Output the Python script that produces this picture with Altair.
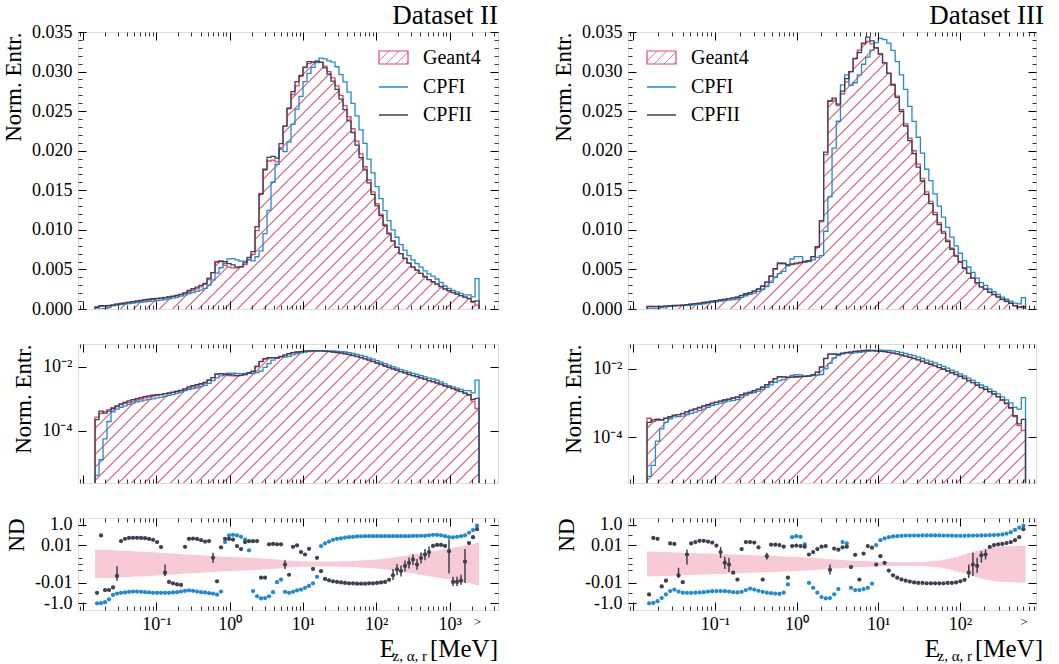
import numpy as np
import pandas as pd
import altair as alt

FONT = "Liberation Serif"
RED = "#e5446d"
HATCH = "#ef7f98"
BLUE = "#1f8ad2"
DARK = "#3c4150"
BAND = "#f8cad5"

# ------------------------------------------------------------------ binning
II_EDGE_LOG = (-1.8377, 3.4010)   # log10 of first / last bin edge [MeV]
II_NBINS = 96
III_EDGE_LOG = (-1.8331, 2.8046)
III_NBINS = 90

# ------------------------------------------------------------------ Dataset II
g4_II = [0.00027, 0.00035, 0.00040, 0.00046, 0.00053, 0.00060, 0.00066, 0.00072, 0.00078, 0.00085,
         0.00092, 0.00099, 0.00107, 0.00114, 0.00121, 0.00129, 0.00136, 0.00145, 0.00154, 0.00163,
         0.00174, 0.00187, 0.00202, 0.00218, 0.00235, 0.00255, 0.00280, 0.00310, 0.00370, 0.00460,
         0.00600, 0.00600, 0.00550, 0.00530, 0.00520, 0.00520, 0.00530, 0.00560, 0.00620, 0.00690,
         0.00990, 0.01460, 0.01770, 0.01870, 0.01880, 0.01860, 0.02040, 0.02310, 0.02540, 0.02710,
         0.02820, 0.02940, 0.03050, 0.03100, 0.03120, 0.03130, 0.03120, 0.03070, 0.03000, 0.02920,
         0.02820, 0.02700, 0.02570, 0.02430, 0.02280, 0.02120, 0.01960, 0.01800, 0.01630, 0.01480,
         0.01330, 0.01200, 0.01070, 0.00960, 0.00860, 0.00780, 0.00700, 0.00640, 0.00580, 0.00530,
         0.00490, 0.00450, 0.00410, 0.00370, 0.00340, 0.00310, 0.00280, 0.00250, 0.00230, 0.00210,
         0.00190, 0.00170, 0.00150, 0.00130, 0.00085, 0.00050]
nd_cpfi_II = [-0.97, -0.93, -0.75, -0.4, -0.15, -0.11, -0.093, -0.085, -0.075, -0.07,
              -0.07, -0.075, -0.08, -0.085, -0.093, -0.093, -0.093, -0.093, -0.093, -0.085,
              -0.08, -0.07, -0.06, -0.055, -0.06, -0.07, -0.08, -0.085, -0.1, -0.11,
              -0.14, -0.07, 0.02, 0.088, 0.1, 0.088, 0.065, 0.035, 0.003, -0.063,
              -0.2, -0.33, -0.3, -0.2, -0.08, -0.0085, -0.0047, -0.075, -0.093, -0.075,
              -0.055, -0.045, -0.03, -0.02, -0.011, -0.0025, 0.008, 0.0145, 0.022, 0.033,
              0.041, 0.046, 0.055, 0.06, 0.065, 0.07, 0.072, 0.075, 0.075, 0.075,
              0.075, 0.075, 0.075, 0.075, 0.075, 0.075, 0.075, 0.075, 0.075, 0.078,
              0.078, 0.08, 0.08, 0.09, 0.1, 0.1, 0.09, 0.075, 0.06, 0.057,
              0.065, 0.075, 0.09, 0.16, 0.29, 0.77]
nd_cpfii_II = [-0.093, 0.088, -0.05, -0.05, -0.028, -0.002, 0.025, 0.041, 0.05, 0.052,
               0.052, 0.05, 0.047, 0.04, 0.033, 0.02, 0.0065, -0.0009, -0.008, -0.011,
               -0.014, -0.016, 0.0068, 0.04, 0.043, 0.04, 0.03, 0.022, 0.025, 0.00045,
               -0.007, 0.006, 0.041, 0.04, 0.035, 0.008, 0.004, 0.02, 0.024, 0.024,
               0.025, -0.003, -0.003, 0.012, 0.013, 0.012, 0.012, -0.00002, -0.0015, 0.0068,
               0.0093, 0.002, 0.0011, 0.0043, -0.0003, 0.00045, -0.0006, -0.004, -0.0055, -0.007,
               -0.008, -0.009, -0.01, -0.011, -0.011, -0.012, -0.012, -0.012, -0.011, -0.011,
               -0.01, -0.009, -0.008, -0.005, -0.0017, -0.00036, -0.00057, -0.000084, 0.00004, 0.00026,
               -0.00002, 0.00042, 0.0011, 0.002, 0.0083, 0.0104, 0.0104, 0.0083, 0.0025, -0.008,
               -0.008, -0.006, 0.0001, 0.016, 0.06, 0.35]
band_II = [0.0035, 0.0034, 0.0033, 0.0032, 0.0031, 0.0029, 0.0028, 0.0027, 0.0026, 0.0025,
           0.0023, 0.0022, 0.0021, 0.0020, 0.0019, 0.0018, 0.0017, 0.0016, 0.0015, 0.0014,
           0.0013, 0.0012, 0.0011, 0.00105, 0.001, 0.00095, 0.0009, 0.00085, 0.0008, 0.00075,
           0.0007, 0.00066, 0.00062, 0.00058, 0.00055, 0.00052, 0.0005, 0.00048, 0.00045, 0.00042,
           0.0004, 0.00037, 0.00034, 0.00031, 0.00028, 0.00026, 0.00023, 0.0002, 0.00018, 0.00016,
           0.00014, 0.00013, 0.00012, 0.00012, 0.00011, 0.00011, 0.00011, 0.00011, 0.00011, 0.00011,
           0.00011, 0.00012, 0.00012, 0.00013, 0.00014, 0.00015, 0.00017, 0.00019, 0.00021, 0.00024,
           0.00027, 0.00031, 0.00036, 0.00042, 0.0005, 0.00058, 0.00068, 0.0008, 0.00095, 0.0011,
           0.0013, 0.0015, 0.0018, 0.0021, 0.0025, 0.0029, 0.0034, 0.004, 0.0047, 0.0055,
           0.0065, 0.0078, 0.009, 0.011, 0.013, 0.016]
err_idx_II = [5, 17, 29, 47, 74, 75, 76, 77, 78, 79, 80, 81, 82, 83, 88, 89, 90, 91, 92]
err_lo_II = [-0.006, -0.002, 0.00004, -0.0003, -0.0052, -0.0016, -0.0023, -0.00065, -0.00026, -0.00004,
             -0.0004, 0.00002, 0.0002, 0.0005, -0.0011, -0.02, -0.02, -0.015, -0.01]
err_hi_II = [-0.0001, -0.00002, 0.0017, 0.0002, -0.0003, 0.0, -0.00006, 0.00018, 0.0005, 0.0012,
             0.0003, 0.0018, 0.0041, 0.0074, 0.035, -0.0025, -0.0025, -0.0015, 0.004]

# ------------------------------------------------------------------ Dataset III
g4_III = [0.00036, 0.00029, 0.00031, 0.00033, 0.00036, 0.00039, 0.00043, 0.00046, 0.0005, 0.00055,
          0.0006, 0.00065, 0.00071, 0.00078, 0.00086, 0.00095, 0.00104, 0.00113, 0.00122, 0.0013,
          0.0014, 0.0015, 0.0017, 0.00185, 0.002, 0.0022, 0.0025, 0.0029, 0.0034, 0.0041,
          0.0050, 0.0057, 0.0057, 0.0056, 0.0056, 0.0057, 0.0058, 0.0059, 0.0061, 0.0066,
          0.0078, 0.0110, 0.0195, 0.0263, 0.0264, 0.0257, 0.0272, 0.0287, 0.0300, 0.0316,
          0.0327, 0.0335, 0.0338, 0.0335, 0.0330, 0.0322, 0.0311, 0.0298, 0.0284, 0.0269,
          0.0252, 0.0234, 0.0216, 0.0200, 0.0183, 0.0165, 0.0148, 0.0136, 0.0122, 0.0109,
          0.0098, 0.0087, 0.0077, 0.0068, 0.0060, 0.0052, 0.0045, 0.0039, 0.0033, 0.0028,
          0.0025, 0.0021, 0.0018, 0.0015, 0.0012, 0.00095, 0.0007, 0.0004, 0.00022, 0.00016]
nd_cpfi_III = [-0.96, -0.9, -0.6, -0.3, -0.135, -0.063, -0.045, -0.07, -0.09, -0.093,
               -0.093, -0.09, -0.085, -0.08, -0.07, -0.065, -0.063, -0.063, -0.065, -0.07,
               -0.08, -0.085, -0.075, -0.05, -0.036, -0.045, -0.06, -0.075, -0.09, -0.1,
               -0.11, -0.12, -0.09, -0.014, 0.06, 0.075, 0.065, 0.012, -0.01, -0.03,
               -0.09, -0.24, -0.33, -0.3, -0.13, -0.04, 0.02, 0.015, -0.03, -0.05,
               -0.05, -0.04, -0.03, -0.012, 0.01, 0.03, 0.045, 0.06, 0.07, 0.075,
               0.08, 0.085, 0.085, 0.085, 0.085, 0.088, 0.088, 0.088, 0.088, 0.088,
               0.085, 0.085, 0.082, 0.08, 0.08, 0.08, 0.082, 0.085, 0.085, 0.088,
               0.09, 0.092, 0.095, 0.1, 0.11, 0.13, 0.18, 0.3, 0.5, 0.8]
nd_cpfii_III = [-0.135, 0.05, 0.041, -0.022, -0.006, 0.0145, 0.013, -0.0018, -0.0085, 0.0011,
                0.0145, 0.02, 0.026, 0.026, 0.022, 0.018, 0.009, 0.002, 0.00005, -0.00002,
                -0.0009, -0.0047, 0.004, 0.02, 0.02, 0.018, 0.006, -0.0047, 0.0007, 0.011,
                0.011, 0.01, 0.007, -0.003, 0.008, 0.009, 0.008, 0.007, 0.0011, 0.002,
                0.004, 0.007, 0.008, -0.0004, 0.0045, 0.0035, 0.006, 0.007, -0.00015, 0.001,
                -0.0047, 0.0014, 0.008, 0.0055, -0.00002, 0.0007, 0.00004, -0.0005, -0.0017, -0.003,
                -0.0045, -0.006, -0.0075, -0.009, -0.01, -0.01, -0.011, -0.011, -0.011, -0.011,
                -0.011, -0.01, -0.01, -0.009, -0.007, -0.005, -0.0009, -0.00002, -0.00008, 0.0009,
                0.0011, 0.0066, 0.01, 0.012, 0.013, 0.016, 0.02, 0.03, 0.06, 0.35]
band_III = [0.0023, 0.0022, 0.0021, 0.0020, 0.0020, 0.0019, 0.0018, 0.0018, 0.0017, 0.0016,
            0.0016, 0.0015, 0.0015, 0.0014, 0.0014, 0.0013, 0.0013, 0.0012, 0.0012, 0.0011,
            0.0011, 0.00105, 0.001, 0.00097, 0.00093, 0.0009, 0.00087, 0.00083, 0.0008, 0.00077,
            0.00074, 0.0007, 0.00066, 0.00063, 0.0006, 0.00057, 0.00054, 0.0005, 0.00046, 0.00042,
            0.00038, 0.00035, 0.00031, 0.00029, 0.00026, 0.00024, 0.00022, 0.0002, 0.00018, 0.00016,
            0.00015, 0.00014, 0.00013, 0.00012, 0.00011, 0.0001, 0.00009, 0.00008, 0.00008, 0.00007,
            0.00007, 0.00007, 0.00007, 0.00008, 0.00008, 0.00009, 0.0001, 0.00012, 0.00015, 0.00018,
            0.00024, 0.0003, 0.0004, 0.00055, 0.0008, 0.0011, 0.0016, 0.0021, 0.0028, 0.0036,
            0.0045, 0.0055, 0.0065, 0.0072, 0.0077, 0.008, 0.0083, 0.0086, 0.0089, 0.0092]
err_idx_III = [7, 9, 17, 18, 19, 28, 43, 76, 77, 78, 79, 80]
err_lo_III = [-0.0032, -0.00002, 0.00042, -0.0003, -0.00075, 0.00026, -0.0014, -0.0032, -0.002, -0.0009,
              0.00005, 0.00026]
err_hi_III = [-0.00019, 0.0037, 0.0066, 0.0006, 0.00045, 0.0017, -0.00002, -0.00002, 0.0017, 0.00045,
              0.0025, 0.0037]

LEGEND_LABELS = ["Geant4", "CPFI", "CPFII"]
TITLES = ["Dataset II", "Dataset III"]

# ------------------------------------------------------------------ layout
W_II, W_III = 420, 408
H_TOP, H_MID, H_ND = 277, 139, 92
X_DOMAIN_II = [10 ** -2.07, 10 ** 3.66]
X_DOMAIN_III = [10 ** -2.066, 10 ** 2.933]
Y_LIN = [0.0, 0.035]
Y_LOG_II = [2.4e-6, 0.051]
Y_LOG_III = [4.7e-6, 0.052]
Y_ND = [-4.3, 4.3]
ND_CONST = 0.00015


def model_hist(g4, nd):
    g4 = np.asarray(g4, float)
    nd = np.asarray(nd, float)
    return g4 * (1 + nd) / (1 - nd)


def step_line_df(edges, vals, base):
    xs = [edges[0]] + list(edges[:-1]) + [edges[-1], edges[-1]]
    ys = [base] + list(vals) + [vals[-1], base]
    return pd.DataFrame({"x": [float(v) for v in xs], "y": [float(v) for v in ys], "k": list(range(len(xs)))})


def hatch_fill(wpx, hpx, period=13.0, lw=1.2):
    span = wpx + hpx
    k = span / (wpx ** 2 + hpx ** 2)
    d = lw * np.sqrt(2) / span
    stops = [{"offset": 0.0, "color": "#ffffff"}]
    j = 1
    while True:
        c = j * period / span
        lo, hi = c - d / 2, c + d / 2
        if hi >= 1:
            break
        lo, hi = round(float(lo), 6), round(float(hi), 6)
        stops += [{"offset": lo, "color": "#ffffff"}, {"offset": lo, "color": HATCH},
                  {"offset": hi, "color": HATCH}, {"offset": hi, "color": "#ffffff"}]
        j += 1
    stops.append({"offset": 1.0, "color": "#ffffff"})
    return {"gradient": "linear", "x1": 0, "y1": 0,
            "x2": round(float(k * wpx), 6), "y2": round(float(k * hpx), 6), "stops": stops}


def logpx(v, dom, size):
    return size * (np.log10(v) - np.log10(dom[0])) / (np.log10(dom[1]) - np.log10(dom[0]))


def tick_axis(orient, values, L, w):
    return alt.Axis(orient=orient, offset=-L, tickSize=L, values=[float(v) for v in values],
                    labels=False, domain=False, grid=False, title=None, ticks=True,
                    tickColor="black", tickWidth=w, zindex=2, minExtent=0)


def carriers(xs, ys, xv, yv, xmaj, xmin, ymaj, ymin):
    df = pd.DataFrame({"x": [xv], "y": [yv]})
    out = []
    for ox, oy, xl, yl, L, w in [("bottom", "left", xmaj, ymaj, 8, 1.0),
                                 ("bottom", "left", xmin, ymin, 4, 0.8),
                                 ("top", "right", xmaj, ymaj, 8, 1.0),
                                 ("top", "right", xmin, ymin, 4, 0.8)]:
        yaxis = tick_axis(oy, yl, L, w) if len(yl) else None
        out.append(alt.Chart(df).mark_point(opacity=0).encode(
            x=alt.X("x:Q", scale=xs, axis=tick_axis(ox, xl, L, w)),
            y=alt.Y("y:Q", scale=ys, axis=yaxis)))
    return out


def y_label_axis(values, title, fmt=None, expr=None):
    kw = dict(orient="left", values=values, ticks=False, tickSize=0, domain=False, grid=False,
              labelFont=FONT, labelFontSize=18, labelColor="black", labelPadding=6,
              labelOverlap=False, labelFlush=False,
              title=title, titleFont=FONT, titleFontSize=23, titleFontWeight="normal",
              titleColor="black", titleAnchor="end", titlePadding=6)
    if fmt:
        kw["format"] = fmt
    if expr:
        kw["labelExpr"] = expr
    return alt.Axis(**kw)


def build_column(edge_log, nbins, W, xdom, ylog, g4, nd1, nd2, band, eidx, elo, ehi,
                 title, title_dx, legend_left, xtitle_right, over_thr, label_expr):
    edges = np.logspace(edge_log[0], edge_log[1], nbins + 1)
    centers = np.sqrt(edges[:-1] * edges[1:])
    g4 = np.asarray(g4, float)
    cpfi = model_hist(g4, nd1)
    cpfii = model_hist(g4, nd2)

    xs = alt.Scale(type="log", domain=xdom, nice=False)
    xmaj = [10.0 ** k for k in range(-3, 5) if xdom[0] <= 10.0 ** k <= xdom[1]]
    xmin = [m * 10.0 ** k for k in range(-3, 5) for m in range(2, 10) if xdom[0] <= m * 10.0 ** k <= xdom[1]]
    X = lambda f: alt.X(f, scale=xs, axis=None)
    wpx = logpx(edges[-1], xdom, W) - logpx(edges[0], xdom, W)

    def hist_layers(ys, base, hpx):
        area_df = pd.DataFrame({"x": [float(v) for v in edges],
                                "top": list(g4) + [g4[-1]], "base": base})
        layers = [alt.Chart(area_df).mark_area(interpolate="step-after", fill=hatch_fill(wpx, hpx),
                                               opacity=1, clip=True).encode(
            x=X("x:Q"), y=alt.Y("top:Q", scale=ys, axis=None), y2="base:Q")]
        for vals, col in [(g4, RED), (cpfi, BLUE), (cpfii, DARK)]:
            layers.append(alt.Chart(step_line_df(edges, vals, base)).mark_line(
                interpolate="step-after", color=col, strokeWidth=1.3, clip=True).encode(
                x=X("x:Q"), y=alt.Y("y:Q", scale=ys, axis=None), order="k:Q"))
        return layers

    leg_df = pd.DataFrame({"a": [0]})

    # ---------------- top (linear)
    ys_top = alt.Scale(domain=Y_LIN, nice=False, zero=False)
    ymaj_top = [round(0.005 * i, 3) for i in range(8)]
    ymin_top = [round(0.001 * i, 3) for i in range(1, 35) if i % 5]
    one = pd.DataFrame({"x": [1.0], "y": [0.01]})
    lab_top = alt.Chart(one).mark_point(opacity=0).encode(
        x=alt.X("x:Q", scale=xs, axis=None),
        y=alt.Y("y:Q", scale=ys_top, axis=y_label_axis(ymaj_top, "Norm. Entr.", fmt=".3f")))
    x0 = legend_left
    legend = [
        alt.Chart(leg_df).mark_rect(fill=hatch_fill(29, 13, period=10.0), stroke=RED, strokeWidth=1.2).encode(
            x=alt.value(x0), x2=alt.value(x0 + 29), y=alt.value(19), y2=alt.value(32)),
        alt.Chart(leg_df).mark_rule(color=BLUE, strokeWidth=1.5).encode(
            x=alt.value(x0), x2=alt.value(x0 + 29), y=alt.value(55)),
        alt.Chart(leg_df).mark_rule(color=DARK, strokeWidth=1.5).encode(
            x=alt.value(x0), x2=alt.value(x0 + 29), y=alt.value(83)),
    ]
    for lbl, yy in zip(LEGEND_LABELS, [26, 55, 83]):
        legend.append(alt.Chart(leg_df).mark_text(text=lbl, align="left", baseline="middle", font=FONT,
                                                  fontSize=20, color="black").encode(
            x=alt.value(x0 + 44), y=alt.value(yy)))
    title_mark = alt.Chart(leg_df).mark_text(text=title, align="right", baseline="alphabetic", font=FONT,
                                             fontSize=27, color="black").encode(
        x=alt.value(W + title_dx), y=alt.value(-8))
    top = alt.layer(
        *hist_layers(ys_top, 0.0, float(g4.max()) / Y_LIN[1] * H_TOP), *legend, title_mark, lab_top,
        *carriers(xs, ys_top, 1.0, 0.01, xmaj, xmin, ymaj_top, ymin_top)
    ).resolve_axis(x="independent", y="independent").properties(width=W, height=H_TOP)

    # ---------------- middle (log)
    ys_mid = alt.Scale(type="log", domain=ylog, nice=False)
    hmid = H_MID * (np.log10(g4.max()) - np.log10(ylog[0])) / (np.log10(ylog[1]) - np.log10(ylog[0]))
    lab_mid = alt.Chart(one).mark_point(opacity=0).encode(
        x=alt.X("x:Q", scale=xs, axis=None),
        y=alt.Y("y:Q", scale=ys_mid, axis=y_label_axis([1e-4, 1e-2], "Norm. Entr.",
                                                      expr="datum.value < 0.001 ? '10⁻⁴' : '10⁻²'")))
    mid = alt.layer(
        *hist_layers(ys_mid, ylog[0], float(hmid)), lab_mid,
        *carriers(xs, ys_mid, 1.0, 0.01, xmaj, xmin, [1e-4, 1e-2], [])
    ).resolve_axis(x="independent", y="independent").properties(width=W, height=H_MID)

    # ---------------- ND panel
    ys_nd = alt.Scale(type="symlog", constant=ND_CONST, domain=Y_ND, nice=False, zero=False)
    band = list(band)
    band_df = pd.DataFrame({"x": [float(v) for v in edges],
                            "lo": [-v for v in band] + [-band[-1]], "hi": band + [band[-1]]})
    dots_df = pd.DataFrame({"x": centers, "nd1": nd1, "nd2": nd2})
    err_df = pd.DataFrame({"x": centers[eidx], "lo": elo, "hi": ehi})
    YN = lambda f: alt.Y(f, scale=ys_nd, axis=None)
    xlab_vals = xmaj[1:] + [float(centers[-1])]
    xaxis_nd = alt.Axis(orient="bottom", values=[float(v) for v in xlab_vals], labelExpr=label_expr,
                        ticks=False, tickSize=0, domain=False, grid=False, labelFont=FONT,
                        labelFontSize={"condition": {"test": f"datum.value > {over_thr}", "value": 13},
                                       "value": 18},
                        labelColor="black", labelPadding=5, labelOverlap=False, labelFlush=False,
                        title=None)
    lab_nd = alt.Chart(one).mark_point(opacity=0).encode(
        x=alt.X("x:Q", scale=xs, axis=xaxis_nd),
        y=alt.Y("y:Q", scale=ys_nd, axis=y_label_axis(
            [1.0, 0.01, -0.01, -1.0], "ND",
            expr="datum.value == 1 ? '1.0' : datum.value == -1 ? '-1.0' : datum.value > 0 ? '0.01' : '-0.01'")))
    r = W + xtitle_right
    xtitle = [
        alt.Chart(leg_df).mark_text(text="[MeV]", align="right", baseline="alphabetic", font=FONT,
                                    fontSize=25, color="black").encode(x=alt.value(r), y=alt.value(139)),
        alt.Chart(leg_df).mark_text(text="z, α, r", align="right", baseline="alphabetic", font=FONT,
                                    fontSize=15, color="black").encode(x=alt.value(r - 71), y=alt.value(143)),
        alt.Chart(leg_df).mark_text(text="E", align="right", baseline="alphabetic", font=FONT,
                                    fontSize=25, color="black").encode(x=alt.value(r - 103), y=alt.value(139)),
    ]
    nd = alt.layer(
        alt.Chart(band_df).mark_area(interpolate="step-after", color=BAND, opacity=1).encode(
            x=X("x:Q"), y=YN("hi:Q"), y2="lo:Q"),
        alt.Chart(dots_df).mark_circle(size=18, color=BLUE, opacity=1).encode(x=X("x:Q"), y=YN("nd1:Q")),
        alt.Chart(dots_df).mark_circle(size=18, color=DARK, opacity=1).encode(x=X("x:Q"), y=YN("nd2:Q")),
        alt.Chart(err_df).mark_rule(color=DARK, strokeWidth=1.5).encode(x=X("x:Q"), y=YN("lo:Q"), y2="hi:Q"),
        *xtitle, lab_nd,
        *carriers(xs, ys_nd, 1.0, 0.0, xmaj, xmin, [1.0, 0.01, -0.01, -1.0], [0.1, -0.1, 0.0004, 0.0, -0.0004])
    ).resolve_axis(x="independent", y="independent").properties(width=W, height=H_ND)

    return alt.vconcat(top, alt.vconcat(mid, nd, spacing=31), spacing=24)


expr_II = ("datum.value < 0.5 ? '10⁻¹' : datum.value < 5 ? '10⁰' : datum.value < 50 ? '10¹' : "
           "datum.value < 500 ? '10²' : datum.value < 2000 ? '10³' : '>'")
expr_III = ("datum.value < 0.5 ? '10⁻¹' : datum.value < 5 ? '10⁰' : datum.value < 50 ? '10¹' : "
            "datum.value < 500 ? '10²' : '>'")

col_II = build_column(II_EDGE_LOG, II_NBINS, W_II, X_DOMAIN_II, Y_LOG_II, g4_II, nd_cpfi_II, nd_cpfii_II,
                      band_II, err_idx_II, err_lo_II, err_hi_II, TITLES[0], 0, 301, 0, 2000, expr_II)
col_III = build_column(III_EDGE_LOG, III_NBINS, W_III, X_DOMAIN_III, Y_LOG_III, g4_III, nd_cpfi_III,
                       nd_cpfii_III, band_III, err_idx_III, err_lo_III, err_hi_III, TITLES[1], 8, 19, 7,
                       500, expr_III)

chart = alt.hconcat(col_II, col_III, spacing=53).properties(
    padding={"left": 2, "top": 1, "right": 0, "bottom": 0}
).configure_view(stroke="black", strokeWidth=1.4).configure(background="white")

chart.save("out.html", embed_options={"renderer": "svg", "actions": False})
